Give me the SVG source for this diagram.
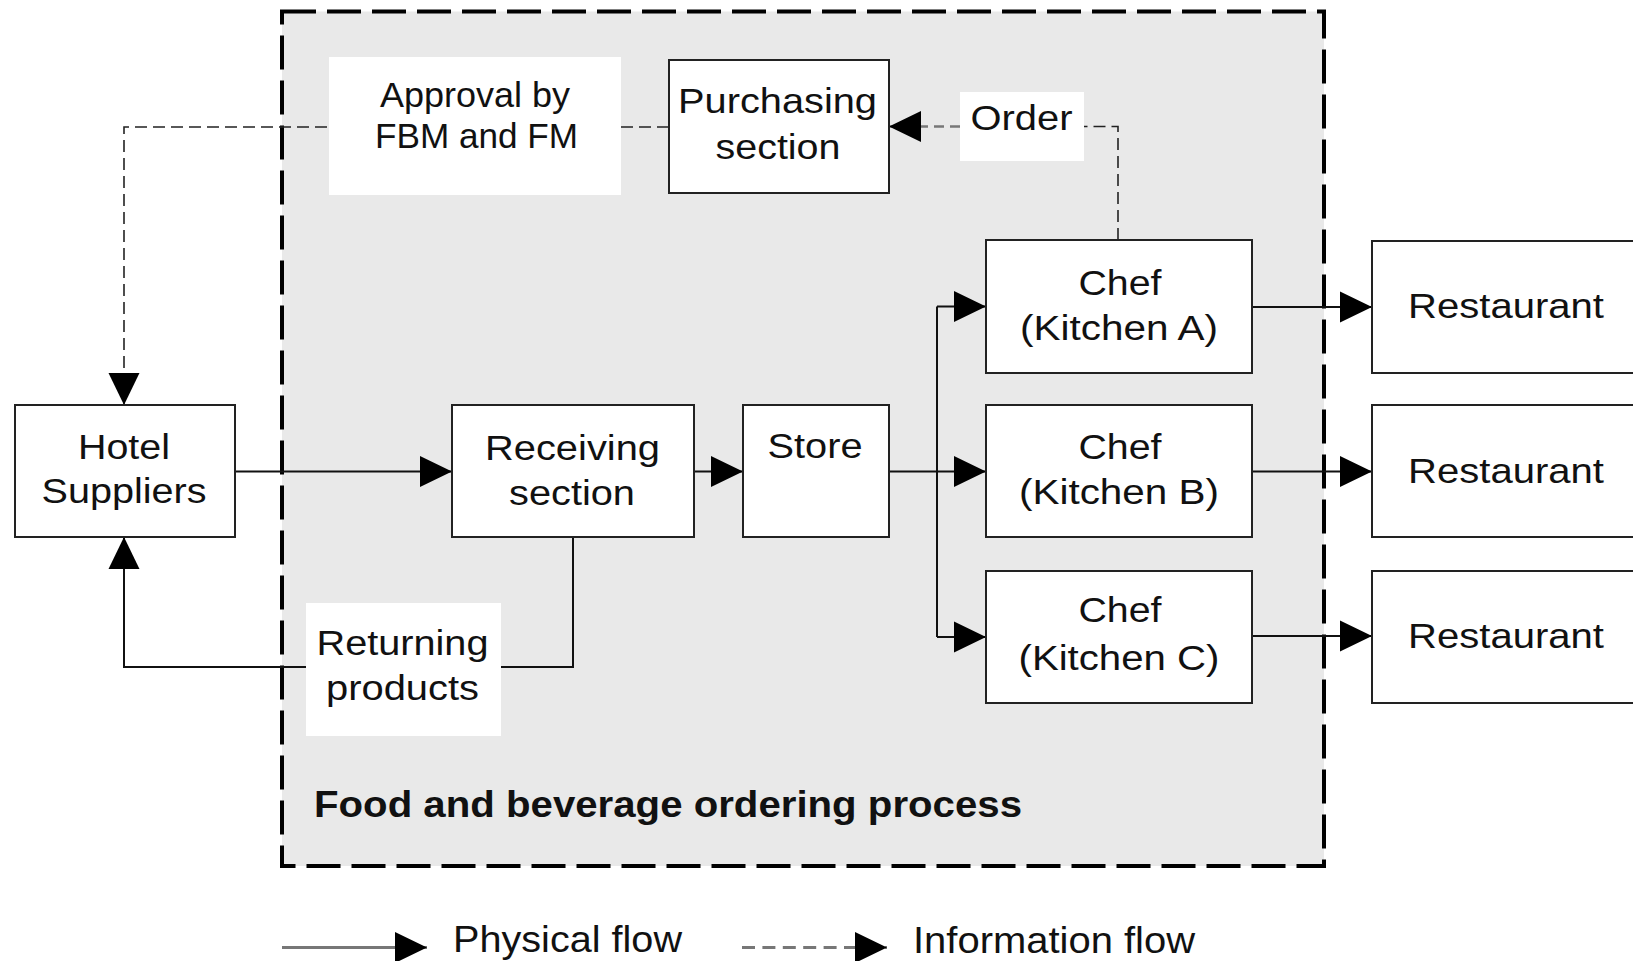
<svg xmlns="http://www.w3.org/2000/svg" width="1633" height="961" viewBox="0 0 1633 961">
<defs>
<style>
.box{fill:#fff;stroke:#222;stroke-width:2}
.lbl{fill:#fff;stroke:none}
.t{font-family:"Liberation Sans",Arial,sans-serif;font-size:35px;fill:#111;text-anchor:middle}
.tl{font-family:"Liberation Sans",Arial,sans-serif;font-size:37px;fill:#111}
.b{font-weight:bold}
.phys{fill:none;stroke:#111;stroke-width:2}
.info{fill:none;stroke:#222;stroke-width:1.6;stroke-dasharray:12 6}
</style>
<marker id="ah" markerUnits="userSpaceOnUse" markerWidth="32" markerHeight="32" viewBox="0 0 31 30" refX="31" refY="15" orient="auto">
<path d="M0,0 L31,15 L0,30 Z" fill="#000"/>
</marker>
</defs>

<g id="container">
<rect x="282" y="11.5" width="1042" height="854.5" fill="#e9e9e9" stroke="#000" stroke-width="4" stroke-dasharray="34 11"/>
<text class="tl b" x="314" y="817" textLength="708" lengthAdjust="spacingAndGlyphs">Food and beverage ordering process</text>
</g>

<g id="connectors">
<path class="phys" d="M235,471.5 H452" marker-end="url(#ah)"/>
<path class="phys" d="M694,471.5 H743" marker-end="url(#ah)"/>
<path class="phys" d="M889,471.5 H986" marker-end="url(#ah)"/>
<path class="phys" d="M937,306.5 V637"/>
<path class="phys" d="M937,306.5 H986" marker-end="url(#ah)"/>
<path class="phys" d="M937,637 H986" marker-end="url(#ah)"/>
<path class="phys" d="M1252,307 H1372" stroke="#444" stroke-width="2.5" marker-end="url(#ah)"/>
<path class="phys" d="M1252,471.5 H1372" marker-end="url(#ah)"/>
<path class="phys" d="M1252,636 H1372" marker-end="url(#ah)"/>
<path class="phys" d="M573,537 V667 H124 V537" marker-end="url(#ah)"/>
<path class="info" d="M1118,240 V126.5 H960"/>
<path d="M960,126.5 H889" fill="none" stroke="#777" stroke-width="2.5" stroke-dasharray="10 6" marker-end="url(#ah)"/>
<path class="info" d="M669,127 H124 V405" marker-end="url(#ah)"/>
</g>

<g id="approval">
<rect class="lbl" x="329" y="57" width="292" height="138"/>
<text class="t" x="475" y="106.5" textLength="190" lengthAdjust="spacingAndGlyphs">Approval by</text>
<text class="t" x="476.5" y="148" textLength="203" lengthAdjust="spacingAndGlyphs">FBM and FM</text>
</g>

<g id="purchasing">
<rect class="box" x="669" y="60" width="220" height="133"/>
<text class="t" x="777.5" y="113" textLength="199" lengthAdjust="spacingAndGlyphs">Purchasing</text>
<text class="t" x="778" y="159" textLength="125" lengthAdjust="spacingAndGlyphs">section</text>
</g>

<g id="order">
<rect class="lbl" x="960" y="92" width="124" height="69"/>
<text class="t" x="1021.5" y="130" textLength="102" lengthAdjust="spacingAndGlyphs">Order</text>
</g>

<g id="hotel">
<rect class="box" x="15" y="405" width="220" height="132"/>
<text class="t" x="124" y="459" font-size="36" textLength="92" lengthAdjust="spacingAndGlyphs">Hotel</text>
<text class="t" x="124" y="503" font-size="36" textLength="165" lengthAdjust="spacingAndGlyphs">Suppliers</text>
</g>

<g id="receiving">
<rect class="box" x="452" y="405" width="242" height="132"/>
<text class="t" x="572.5" y="460" textLength="175" lengthAdjust="spacingAndGlyphs">Receiving</text>
<text class="t" x="572" y="505" textLength="126" lengthAdjust="spacingAndGlyphs">section</text>
</g>

<g id="store">
<rect class="box" x="743" y="405" width="146" height="132"/>
<text class="t" x="815" y="458" textLength="95" lengthAdjust="spacingAndGlyphs">Store</text>
</g>

<g id="chefA">
<rect class="box" x="986" y="240" width="266" height="133"/>
<text class="t" x="1120" y="294.5" textLength="83" lengthAdjust="spacingAndGlyphs">Chef</text>
<text class="t" x="1119" y="340" textLength="198" lengthAdjust="spacingAndGlyphs">(Kitchen A)</text>
</g>

<g id="chefB">
<rect class="box" x="986" y="405" width="266" height="132"/>
<text class="t" x="1120" y="458.5" textLength="83" lengthAdjust="spacingAndGlyphs">Chef</text>
<text class="t" x="1119" y="504" textLength="200" lengthAdjust="spacingAndGlyphs">(Kitchen B)</text>
</g>

<g id="chefC">
<rect class="box" x="986" y="571" width="266" height="132"/>
<text class="t" x="1120" y="622" textLength="83" lengthAdjust="spacingAndGlyphs">Chef</text>
<text class="t" x="1119" y="670" textLength="201" lengthAdjust="spacingAndGlyphs">(Kitchen C)</text>
</g>

<g id="restaurantA">
<rect class="box" x="1372" y="241" width="300" height="132"/>
<text class="t" x="1506" y="318" font-size="37" textLength="196" lengthAdjust="spacingAndGlyphs">Restaurant</text>
</g>

<g id="restaurantB">
<rect class="box" x="1372" y="405" width="300" height="132"/>
<text class="t" x="1506" y="483" font-size="37" textLength="196" lengthAdjust="spacingAndGlyphs">Restaurant</text>
</g>

<g id="restaurantC">
<rect class="box" x="1372" y="571" width="300" height="132"/>
<text class="t" x="1506" y="648" font-size="37" textLength="196" lengthAdjust="spacingAndGlyphs">Restaurant</text>
</g>

<g id="returning">
<rect class="lbl" x="306" y="603" width="195" height="133"/>
<text class="t" x="402.5" y="655" textLength="172" lengthAdjust="spacingAndGlyphs">Returning</text>
<text class="t" x="402.5" y="700" textLength="153" lengthAdjust="spacingAndGlyphs">products</text>
</g>

<g id="legend">
<path d="M282,947.5 H427" fill="none" stroke="#777" stroke-width="3" marker-end="url(#ah)"/>
<text class="tl" x="453" y="951.5" textLength="229" lengthAdjust="spacingAndGlyphs">Physical flow</text>
<path d="M742,947.5 H887" fill="none" stroke="#777" stroke-width="3" stroke-dasharray="13 7.4" marker-end="url(#ah)"/>
<text class="tl" x="913" y="952.5" textLength="282" lengthAdjust="spacingAndGlyphs">Information flow</text>
</g>
</svg>
